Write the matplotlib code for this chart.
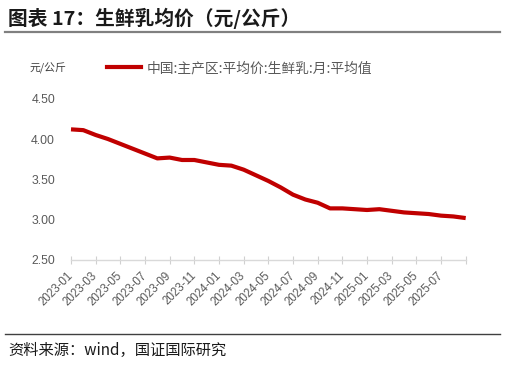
import matplotlib
matplotlib.use("Agg")
import matplotlib.pyplot as plt
from matplotlib.lines import Line2D

plt.rcParams['font.family'] = ['Noto Sans CJK SC', 'DejaVu Sans']

months = ["2023-01", "2023-02", "2023-03", "2023-04", "2023-05", "2023-06",
          "2023-07", "2023-08", "2023-09", "2023-10", "2023-11", "2023-12",
          "2024-01", "2024-02", "2024-03", "2024-04", "2024-05", "2024-06",
          "2024-07", "2024-08", "2024-09", "2024-10", "2024-11", "2024-12",
          "2025-01", "2025-02", "2025-03", "2025-04", "2025-05", "2025-06",
          "2025-07", "2025-08", "2025-09"]
price = [4.12, 4.11, 4.05, 4.00, 3.94, 3.88, 3.82, 3.76, 3.77, 3.74, 3.74, 3.71,
         3.68, 3.67, 3.62, 3.55, 3.48, 3.40, 3.31, 3.25, 3.21, 3.14, 3.14, 3.13,
         3.12, 3.13, 3.11, 3.09, 3.08, 3.07, 3.05, 3.04, 3.02]
y_ticks = [2.50, 3.00, 3.50, 4.00, 4.50]
series_name = "中国:主产区:平均价:生鲜乳:月:平均值"
title = "图表 17：生鲜乳均价（元/公斤）"
unit = "元/公斤"
source = "资料来源：wind，国证国际研究"

W, H = 506, 365
fig = plt.figure(figsize=(W / 100, H / 100), dpi=100)
ax = fig.add_axes([71 / W, 1 - 260 / H, (465.7 - 71) / W, (260 - 98.7) / H])

x = list(range(len(months)))
ax.plot(x, price, color="#C00000", lw=3.0, solid_capstyle="butt", clip_on=False, zorder=3)

ax.set_xlim(0, len(months) - 1)
ax.set_ylim(2.5, 4.5)

tick_pos = list(range(0, len(months), 2))
ax.set_xticks(tick_pos)
ax.set_xticklabels([months[i] if i < len(months) - 1 else "" for i in tick_pos],
                   rotation=45, ha="right", va="center", rotation_mode="anchor",
                   fontsize=8.3, color="#595959", family=["Liberation Sans"])
ax.tick_params(axis="x", direction="inout", length=6, width=0.8, color="#d0d0d0", pad=7)

ax.set_yticks(y_ticks)
ax.set_yticklabels([f"{v:.2f}" for v in y_ticks], fontsize=8.8, color="#595959",
                   family=["Liberation Sans"])
ax.tick_params(axis="y", length=0, pad=11.5)

for s in ["top", "right", "left"]:
    ax.spines[s].set_visible(False)
ax.spines["bottom"].set_color("#d9d9d9")
ax.spines["bottom"].set_linewidth(1.0)

# legend
handle = Line2D([], [], color="#C00000", lw=3.0)
leg = fig.legend([handle], [series_name], loc="center left",
                 bbox_to_anchor=(107 / W, 1 - 68 / H), frameon=False,
                 fontsize=9.9, handlelength=2.5, handletextpad=0.35,
                 borderpad=0, borderaxespad=0)
for t in leg.get_texts():
    t.set_color("#595959")

# unit label
fig.text(30 / W, 1 - 68 / H, unit, fontsize=7.8, color="#404040", ha="left", va="center")

# title
fig.text(8 / W, 1 - 18 / H, title, fontsize=14.2, fontweight="bold", color="#1a1a1a",
         ha="left", va="center")
fig.add_artist(Line2D([5 / W, 500 / W], [1 - 32 / H, 1 - 32 / H],
                      transform=fig.transFigure, color="#808080", lw=1.6))

# bottom rule and source
fig.add_artist(Line2D([5 / W, 500 / W], [1 - 334 / H, 1 - 334 / H],
                      transform=fig.transFigure, color="#404040", lw=1.0))
fig.text(8 / W, 1 - 350 / H, source, fontsize=11, color="#1a1a1a", style="italic",
         ha="left", va="center")

fig.savefig("out.png", dpi=100)
